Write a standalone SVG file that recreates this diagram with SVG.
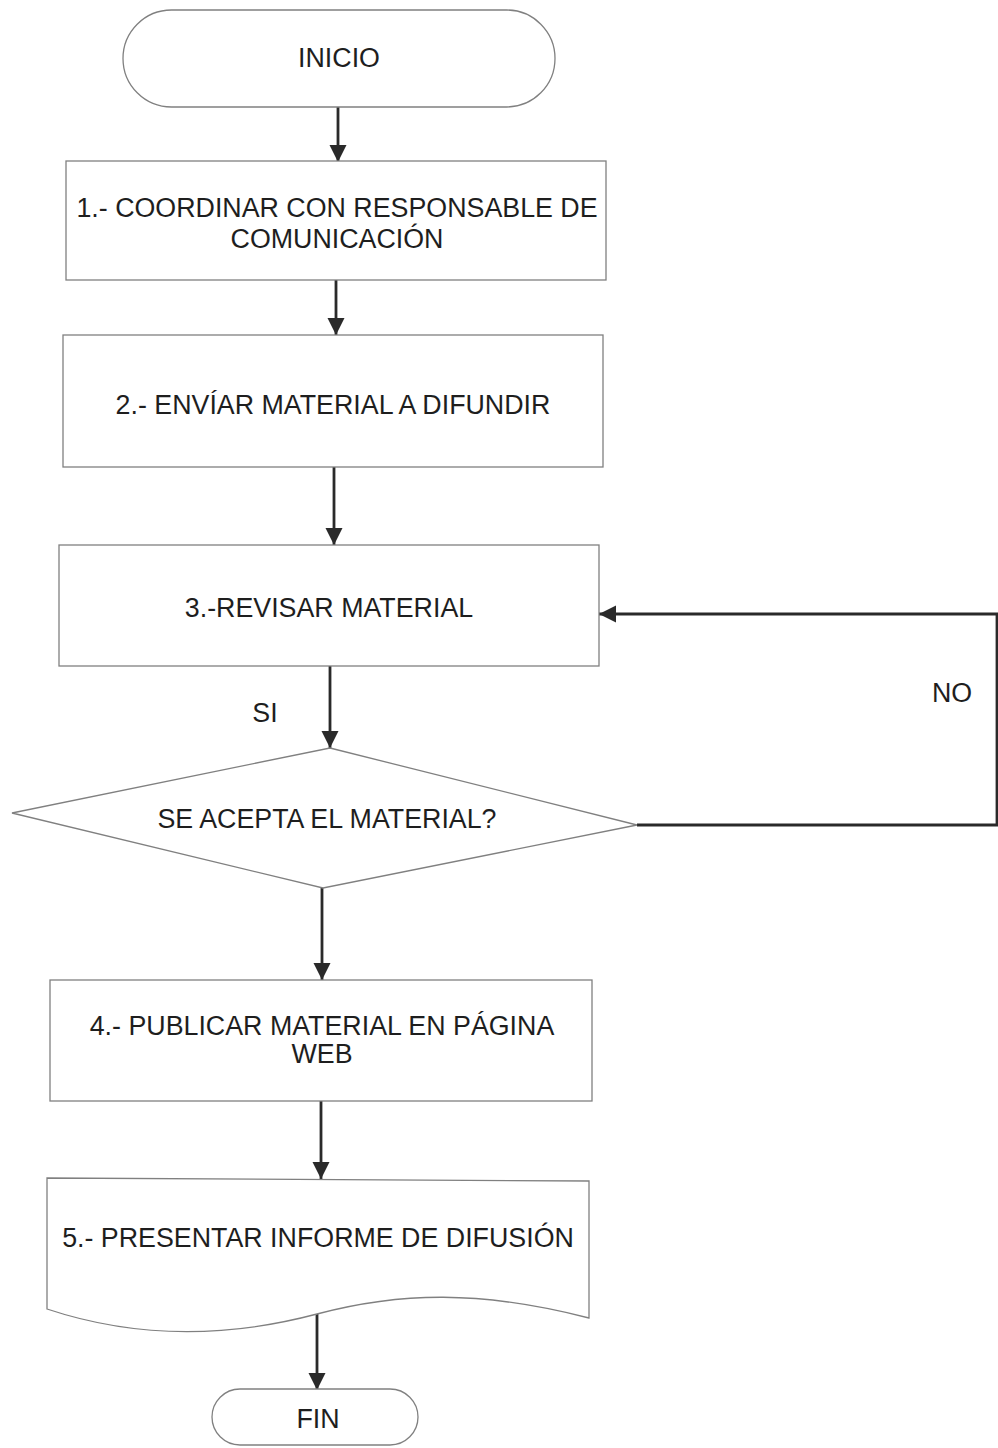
<svg xmlns="http://www.w3.org/2000/svg" width="998" height="1448" viewBox="0 0 998 1448">
<style>
.shape{fill:#ffffff;stroke:#808080;stroke-width:1.3}
.t{font-family:"Liberation Sans",Arial,sans-serif;font-size:26.8px;fill:#1e1e1e;text-anchor:middle}
.c{fill:none;stroke:#2a2a2a;stroke-width:2.8}
</style>
<defs>
<marker id="ah" viewBox="0 0 10 10" refX="10" refY="5" markerWidth="6.2" markerHeight="6.2" markerUnits="strokeWidth" orient="auto">
<path d="M0,0 L10,5 L0,10 Z" fill="#2a2a2a"/>
</marker>
</defs>
<rect width="998" height="1448" fill="#ffffff"/>
<g id="connectors">
<line class="c" x1="338" y1="107" x2="338" y2="162" marker-end="url(#ah)"/>
<line class="c" x1="336" y1="280" x2="336" y2="335" marker-end="url(#ah)"/>
<line class="c" x1="334" y1="467" x2="334" y2="545" marker-end="url(#ah)"/>
<line class="c" x1="330" y1="666" x2="330" y2="748" marker-end="url(#ah)"/>
<polyline class="c" points="637,825 997,825 997,614 599,614" marker-end="url(#ah)"/>
<line class="c" x1="322" y1="888" x2="322" y2="980" marker-end="url(#ah)"/>
<line class="c" x1="321" y1="1101" x2="321" y2="1179" marker-end="url(#ah)"/>
<line class="c" x1="317" y1="1314" x2="317" y2="1390" marker-end="url(#ah)"/>
<text class="t" x="265" y="722">SI</text>
<text class="t" x="952" y="702">NO</text>
</g>
<g id="inicio">
<rect class="shape" x="123" y="10" width="432" height="97" rx="48.5"/>
<text class="t" x="339" y="67">INICIO</text>
</g>
<g id="paso1">
<rect class="shape" x="66" y="161" width="540" height="119"/>
<text class="t" x="337" y="217">1.- COORDINAR CON RESPONSABLE DE</text>
<text class="t" x="337" y="248">COMUNICACIÓN</text>
</g>
<g id="paso2">
<rect class="shape" x="63" y="335" width="540" height="132"/>
<text class="t" x="333" y="414">2.- ENVÍAR MATERIAL A DIFUNDIR</text>
</g>
<g id="paso3">
<rect class="shape" x="59" y="545" width="540" height="121"/>
<text class="t" x="329" y="617">3.-REVISAR MATERIAL</text>
</g>
<g id="decision">
<polygon class="shape" points="330,748 637,825 323,888 12,813"/>
<text class="t" x="327" y="828">SE ACEPTA EL MATERIAL?</text>
</g>
<g id="paso4">
<rect class="shape" x="50" y="980" width="542" height="121"/>
<text class="t" x="322" y="1035">4.- PUBLICAR MATERIAL EN PÁGINA</text>
<text class="t" x="322" y="1063">WEB</text>
</g>
<g id="paso5">
<path class="shape" d="M47,1178 L589,1181 L589,1318 C480,1290 400,1292 317,1314 C200,1345 110,1330 47,1309 Z"/>
<text class="t" x="318" y="1247">5.- PRESENTAR INFORME DE DIFUSIÓN</text>
</g>
<g id="fin">
<rect class="shape" x="212" y="1389" width="206" height="56" rx="28"/>
<text class="t" x="318" y="1428">FIN</text>
</g>
</svg>
